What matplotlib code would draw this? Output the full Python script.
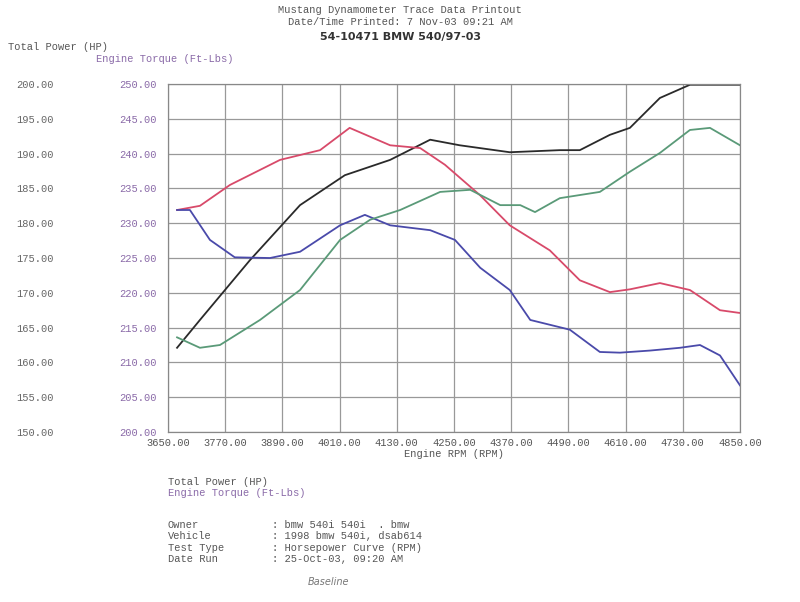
import matplotlib
matplotlib.use("Agg")
import matplotlib.pyplot as plt
import numpy as np

black_rpm = [3669,3717,3822,3927,4021,4116,4200,4262,4367,4472,4514,4577,4619,4682,4745,4850]
black_hp  = [162.1,166.1,174.7,182.6,186.9,189.1,192.0,191.2,190.2,190.5,190.5,192.7,193.7,198.0,199.9,199.9]
red_rpm = [3669,3717,3780,3885,3969,4031,4116,4179,4231,4305,4367,4451,4514,4577,4619,4682,4745,4808,4850]
red_v   = [181.9,182.5,185.5,189.1,190.5,193.7,191.2,190.8,188.4,184.0,179.7,176.1,171.8,170.1,170.5,171.4,170.4,167.5,167.1]
blue_rpm = [3669,3696,3738,3790,3864,3927,4011,4063,4116,4200,4252,4305,4367,4410,4493,4556,4598,4661,4724,4766,4808,4850]
blue_v   = [181.9,181.9,177.6,175.1,175.0,175.9,179.7,181.2,179.7,179.0,177.6,173.6,170.4,166.1,164.7,161.5,161.4,161.7,162.1,162.5,161.0,156.7]
green_rpm = [3669,3717,3759,3843,3927,4011,4074,4137,4221,4284,4347,4389,4420,4472,4556,4619,4682,4745,4787,4850]
green_v   = [163.6,162.1,162.5,166.1,170.4,177.6,180.5,181.9,184.5,184.8,182.6,182.6,181.6,183.6,184.5,187.4,190.1,193.4,193.7,191.2]

xticks = [3650,3770,3890,4010,4130,4250,4370,4490,4610,4730,4850]
hp_ticks = [150,155,160,165,170,175,180,185,190,195,200]
tq_ticks = [200,205,210,215,220,225,230,235,240,245,250]

mono = "Liberation Mono"
fig = plt.figure(figsize=(8,6.02), dpi=100)
ax = fig.add_axes([0.21,0.2824,0.715,0.578])
ax.set_xlim(3650,4850); ax.set_ylim(150,200)
for r,v,c in [(black_rpm,black_hp,"#2a2a2a"),(red_rpm,red_v,"#d84a6a"),
              (blue_rpm,blue_v,"#4a4aaa"),(green_rpm,green_v,"#5a9a78")]:
    ax.plot(r,v,color=c,lw=1.3)
ax.set_xticks(xticks, [f"{t:.2f}" for t in xticks], fontfamily=mono, fontsize=7.5, color="#555")
ax.set_yticks(hp_ticks, [f"{t:.2f}" for t in hp_ticks], fontfamily=mono, fontsize=7.5, color="#666")
ax.tick_params(axis="y", length=0, pad=82)
ax.tick_params(axis="x", length=0, pad=4)
ax.grid(True, color="#999", lw=0.9)
ax2 = ax.twinx()
ax2.set_ylim(200,250)
ax2.yaxis.set_ticks_position("left")
ax2.set_yticks(tq_ticks, [f"{t:.2f}" for t in tq_ticks], fontfamily=mono, fontsize=7.5, color="#8a6aa8")
ax2.tick_params(axis="y", length=0, pad=8)
for a in (ax, ax2):
    for s in a.spines.values(): s.set_color("#888")
ax.set_xlabel("Engine RPM (RPM)", fontfamily=mono, fontsize=7.5, color="#555", labelpad=1)

fig.text(0.5,0.978,"Mustang Dynamometer Trace Data Printout",ha="center",fontfamily=mono,fontsize=7.5,color="#555")
fig.text(0.5,0.958,"Date/Time Printed: 7 Nov-03 09:21 AM",ha="center",fontfamily=mono,fontsize=7.5,color="#555")
fig.text(0.5,0.933,"54-10471 BMW 540/97-03",ha="center",fontsize=8,fontweight="bold",color="#333")
fig.text(0.01,0.917,"Total Power (HP)",fontfamily=mono,fontsize=7.5,color="#555")
fig.text(0.12,0.897,"Engine Torque (Ft-Lbs)",fontfamily=mono,fontsize=7.5,color="#8a6aa8")
fig.text(0.21,0.195,"Total Power (HP)",fontfamily=mono,fontsize=7.5,color="#555")
fig.text(0.21,0.176,"Engine Torque (Ft-Lbs)",fontfamily=mono,fontsize=7.5,color="#8a6aa8")
rows = [("Owner",": bmw 540i 540i  . bmw"),("Vehicle",": 1998 bmw 540i, dsab614"),
        ("Test Type",": Horsepower Curve (RPM)"),("Date Run",": 25-Oct-03, 09:20 AM")]
for i,(a,b) in enumerate(rows):
    y = 0.123 - i*0.019
    fig.text(0.21,y,a,fontfamily=mono,fontsize=7.5,color="#555")
    fig.text(0.34,y,b,fontfamily=mono,fontsize=7.5,color="#555")
fig.text(0.385,0.028,"Baseline",fontsize=7,style="italic",color="#777")
fig.savefig("out.png", dpi=100)
